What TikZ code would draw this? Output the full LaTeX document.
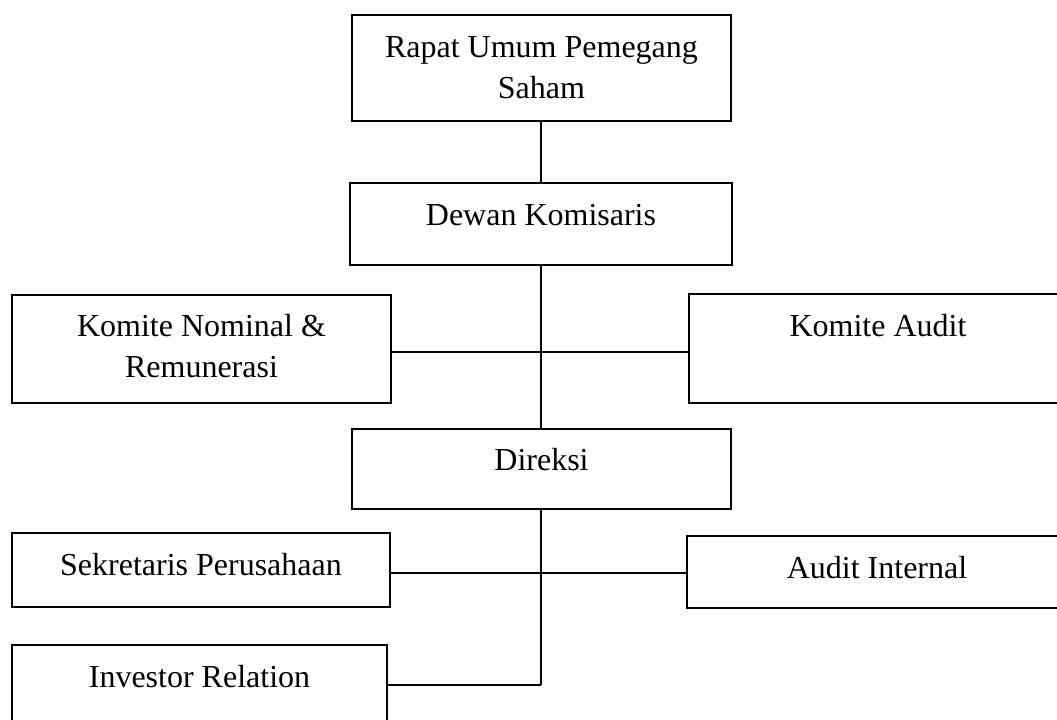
\documentclass[tikz,border=0pt]{standalone}
\usepackage{fontspec}
\setmainfont{Liberation Serif}
\begin{document}
\begin{tikzpicture}[x=0.75pt,y=-0.75pt,
  box/.style={draw=black,line width=1.4pt,rectangle,inner sep=0pt,fill=white},
  txt/.style={font=\fontsize{24}{31}\selectfont,align=center,inner sep=0pt},
  conn/.style={draw=black,line width=1.3pt}]
\useasboundingbox (0,0) rectangle (1057,719);
% boxes
\node[box,minimum width=379*0.75pt,minimum height=106*0.75pt,
  label={[txt,yshift=0.5*0.75pt]center:Rapat Umum Pemegang\\Saham}] (rups) at (541.5,68) {};
\node[box,minimum width=382*0.75pt,minimum height=82*0.75pt,
  label={[txt,yshift=9*0.75pt]center:Dewan Komisaris}] (dk) at (541,224) {};
\node[box,minimum width=379*0.75pt,minimum height=108*0.75pt,
  label={[txt,yshift=3*0.75pt]center:Komite Nominal \&\\Remunerasi}] (knr) at (201.5,349) {};
\node[box,minimum width=378*0.75pt,minimum height=109*0.75pt,
  label={[txt,yshift=23*0.75pt]center:Komite Audit}] (ka) at (878,348.5) {};
\node[box,minimum width=379*0.75pt,minimum height=80*0.75pt,
  label={[txt,yshift=9*0.75pt]center:Direksi}] (dir) at (541.5,469) {};
\node[box,minimum width=378*0.75pt,minimum height=74*0.75pt,
  label={[txt,yshift=5*0.75pt]center:Sekretaris Perusahaan}] (sp) at (201,570) {};
\node[box,minimum width=380*0.75pt,minimum height=72*0.75pt,
  label={[txt,yshift=4*0.75pt]center:Audit Internal}] (ai) at (877,572) {};
\node[box,minimum width=375*0.75pt,minimum height=80*0.75pt,
  label={[txt,yshift=8*0.75pt]center:Investor Relation}] (ir) at (199.5,685) {};
% junctions
\coordinate (j1) at (541,352);
\coordinate (j2) at (541,573);
\coordinate (j3) at (541,685);
% connectors
\draw[conn] (rups.south -| j1) -- (dk.north -| j1);
\draw[conn] (dk.south -| j1) -- (dir.north -| j1);
\draw[conn] (dir.south -| j1) -- (j3);
\draw[conn] (knr.east |- j1) -- (ka.west |- j1);
\draw[conn] (sp.east |- j2) -- (ai.west |- j2);
\draw[conn] (ir.east |- j3) -- (j3);
\end{tikzpicture}
\end{document}
